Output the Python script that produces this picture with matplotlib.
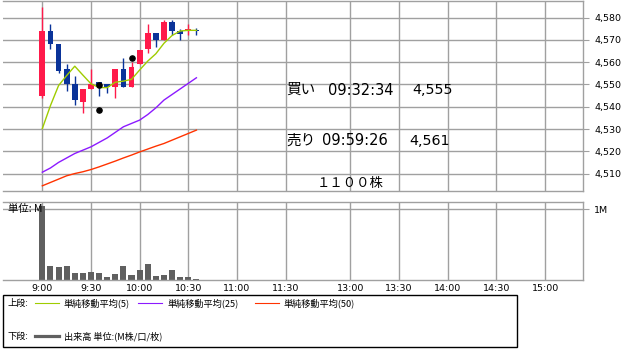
import matplotlib
matplotlib.use("Agg")
import matplotlib.pyplot as plt
from matplotlib.patches import Rectangle

plt.rcParams['font.family'] = ['DejaVu Sans', 'Noto Sans CJK JP']

# 5-minute bars from 9:00
opens = [4545, 4574, 4568, 4557, 4550, 4542, 4548, 4551, 4550, 4549,
         4557, 4549, 4559, 4566, 4573, 4570, 4578, 4574, 4574, 4574.3]
closes = [4574, 4568, 4556, 4550, 4543, 4548, 4550, 4549, 4549, 4557,
          4549, 4558, 4565.5, 4573, 4570, 4578, 4574, 4572.7, 4575, 4574]
highs = [4585, 4577, 4568, 4559, 4554, 4548, 4557, 4551, 4550, 4557,
         4562, 4560, 4565.5, 4577, 4573, 4579, 4579, 4575, 4577, 4575.2]
lows = [4544, 4566, 4555, 4547, 4541, 4537, 4548, 4545, 4546, 4544,
        4549, 4549, 4559, 4564, 4567, 4570, 4572, 4570, 4572.4, 4572]
ma5 = [4530.2, 4540.5, 4549.5, 4554, 4558.2, 4554.2, 4550.3, 4548.6, 4548.6, 4551,
       4551.5, 4552.3, 4556.5, 4560.5, 4563.8, 4568.5, 4572, 4574, 4574.3, 4574.3]
ma25 = [4510.6, 4512.5, 4515, 4517, 4519, 4520.5, 4522, 4524, 4526, 4528.5,
        4531, 4532.5, 4534, 4536.5, 4539.5, 4543, 4545.5, 4548, 4550.5, 4553]
ma50 = [4504.5, 4506, 4507.5, 4509, 4510, 4510.8, 4511.8, 4513, 4514.3, 4515.6,
        4517, 4518.3, 4519.7, 4521, 4522.3, 4523.5, 4525, 4526.5, 4528, 4529.5]
volume = [1.04, 0.197, 0.18, 0.197, 0.098, 0.098, 0.11, 0.098, 0.042, 0.084,
          0.197, 0.07, 0.14, 0.223, 0.056, 0.07, 0.14, 0.042, 0.042, 0.014]
trade_x = [7, 7, 11]
trade_y = [4549.6, 4538.4, 4562]

time_pos = [0, 6, 12, 18, 24, 30, 38, 44, 50, 56, 62]
time_labels = ['9:00', '9:30', '10:00', '10:30', '11:00', '11:30',
               '13:00', '13:30', '14:00', '14:30', '15:00']
price_ticks = [4510, 4520, 4530, 4540, 4550, 4560, 4570, 4580]

W, H = 643, 353
RED = '#ff1a4a'
BLUE = '#0a3399'
GRID = '#a0a0a0'


def px_axes(fig, x0, y0, x1, y1):
    return fig.add_axes([x0 / W, (H - y1) / H, (x1 - x0) / W, (y1 - y0) / H])


fig = plt.figure(figsize=(W / 100, H / 100), dpi=100)
ax = px_axes(fig, 3, 0.5, 583, 190.7)
axv = px_axes(fig, 3, 201.5, 583, 280)

xlim = (-4.85, 66.67)
for a in (ax, axv):
    a.set_xlim(*xlim)
    a.set_xticks(time_pos)
    for x in time_pos:
        a.axvline(x, color=GRID, lw=1, zorder=0)
    a.spines['left'].set_visible(False)
    for s in ('top', 'right', 'bottom'):
        a.spines[s].set_color(GRID)
        a.spines[s].set_linewidth(1)
    a.yaxis.tick_right()
    a.tick_params(axis='y', length=4, color=GRID, labelsize=6.8, pad=4)
    a.tick_params(axis='x', length=0)

# price panel
ax.set_ylim(4502.3, 4587.7)
ax.set_yticks(price_ticks)
ax.set_yticklabels([f'{p:,}' for p in price_ticks])
for p in price_ticks:
    ax.axhline(p, color=GRID, lw=1, zorder=0)
ax.set_xticklabels([])

idx = list(range(len(opens)))
colors = [RED if c >= o else BLUE for o, c in zip(opens, closes)]
ax.vlines(idx, lows, highs, colors=colors, lw=1, zorder=2)
bottoms = [min(o, c) for o, c in zip(opens, closes)]
heights = [max(abs(c - o), 0.4) for o, c in zip(opens, closes)]
ax.bar(idx, heights, bottom=bottoms, width=0.72, color=colors, zorder=3)
ax.plot(idx, ma5, color='#9fcc00', lw=1, zorder=4)
ax.plot(idx, ma25, color='#8c1aff', lw=1, zorder=4)
ax.plot(idx, ma50, color='#ff3300', lw=1, zorder=4)
ax.scatter(trade_x, trade_y, s=14, color='black', zorder=5)

jp = ['Noto Sans CJK JP']
ax.text(30.1, 4547.4, '買い', fontsize=10.5, va='center', family=jp)
ax.text(35.2, 4547.4, '09:32:34', fontsize=10.5, va='center')
ax.text(45.65, 4547.4, '4,555', fontsize=10.3, va='center')
ax.text(30.1, 4524.7, '売り', fontsize=10.5, va='center', family=jp)
ax.text(34.45, 4524.7, '09:59:26', fontsize=10.5, va='center')
ax.text(45.2, 4524.7, '4,561', fontsize=10.3, va='center')
ax.text(37.9, 4505.7, '１１００株', fontsize=9.6, va='center', ha='center', family=jp)

# volume panel
axv.set_ylim(0, 1.106)
axv.set_yticks([1.0])
axv.set_yticklabels(['1M'])
axv.axhline(1.0, color=GRID, lw=1, zorder=0)
axv.bar(idx, volume, width=0.75, color='#606060', zorder=2)
axv.set_xticklabels(time_labels)
axv.tick_params(axis='x', labelsize=6.8, pad=3)
axv.text(0.009, 0.9, '単位: M', transform=axv.transAxes, fontsize=7.5, va='center',
         family=jp, zorder=5)

# legend box
fig.add_artist(Rectangle((3 / W, (H - 347) / H), 514 / W, 52 / H, transform=fig.transFigure,
                         fill=False, ec='black', lw=1))
fy1 = (H - 303) / H
fy2 = (H - 336) / H
lfont = dict(fontsize=6.6, va='center', family=['Noto Sans CJK JP', 'DejaVu Sans'])
fig.text(8 / W, fy1, '上段:', **lfont)
fig.text(8 / W, fy2, '下段:', **lfont)
for x0, col, lab in [(35, '#9fcc00', '単純移動平均(5)'),
                     (138, '#8c1aff', '単純移動平均(25)'),
                     (255, '#ff3300', '単純移動平均(50)')]:
    fig.add_artist(plt.Line2D([x0 / W, (x0 + 24) / W], [fy1, fy1], color=col, lw=0.8,
                              transform=fig.transFigure))
    fig.text((x0 + 29) / W, fy1, lab, **lfont)
fig.add_artist(plt.Line2D([35 / W, 59 / W], [fy2, fy2], color='#606060', lw=2.3,
                          transform=fig.transFigure))
fig.text(64 / W, fy2, '出来高 単位:(M株/口/枚)', **lfont)

fig.savefig('out.png', dpi=100)
